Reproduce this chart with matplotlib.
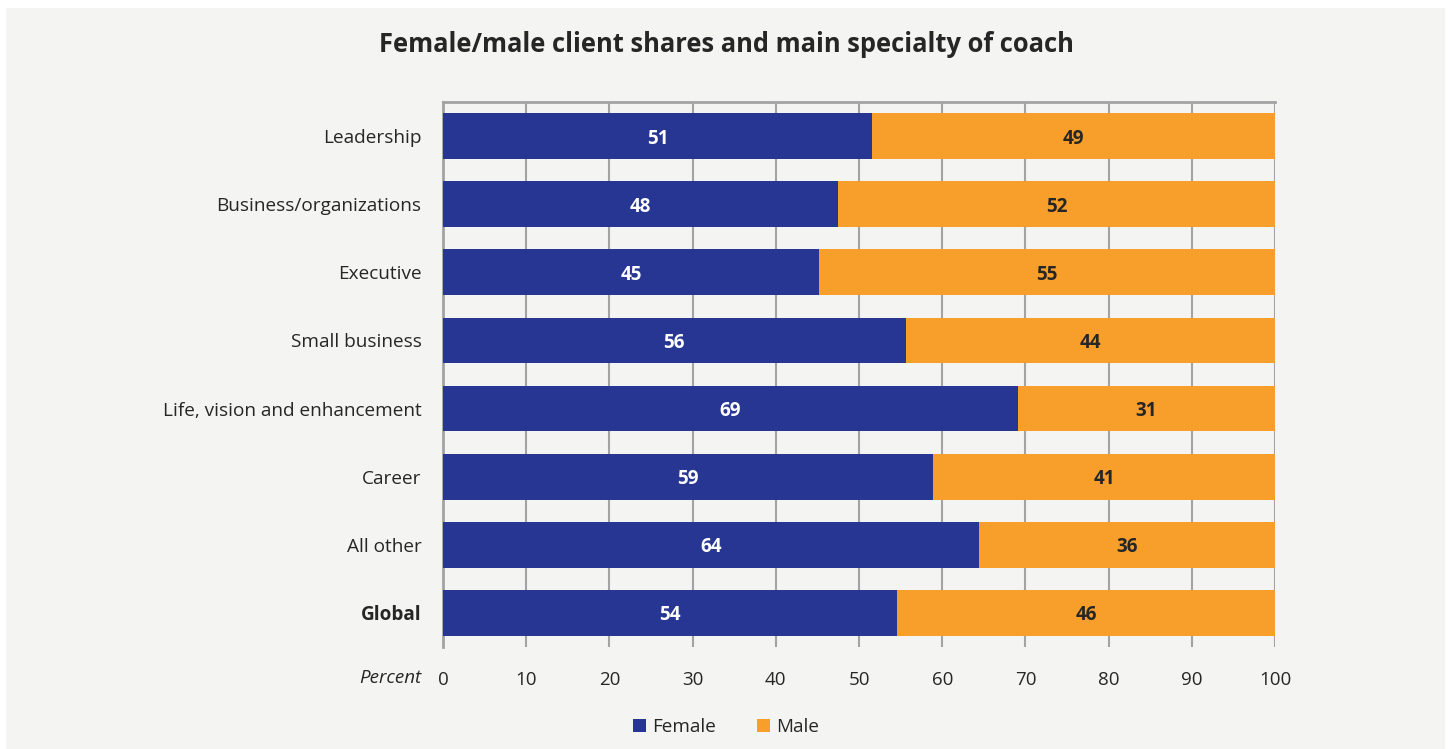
import matplotlib
matplotlib.use("Agg")
import matplotlib.pyplot as plt
from matplotlib.patches import Rectangle, Patch

categories = ["Leadership", "Business/organizations", "Executive", "Small business",
              "Life, vision and enhancement", "Career", "All other", "Global"]
female_share = [51.6, 47.5, 45.2, 55.6, 69.1, 58.9, 64.4, 54.6]
female_labels = ["51", "48", "45", "56", "69", "59", "64", "54"]
male_labels = ["49", "52", "55", "44", "31", "41", "36", "46"]
male_share = [100 - f for f in female_share]
xticks = [0, 10, 20, 30, 40, 50, 60, 70, 80, 90, 100]

BLUE = "#263692"
ORANGE = "#f79e2b"
GRID = "#a3a3a3"
TEXT = "#262626"
BG = "#f4f4f2"

plt.rcParams["font.family"] = ["Open Sans", "DejaVu Sans"]

W, H = 1449, 749
fig = plt.figure(figsize=(W / 100, H / 100), dpi=100, facecolor="white")
fig.patches.append(Rectangle((6 / W, 0), (1445 - 6) / W, (H - 8) / H,
                             transform=fig.transFigure, facecolor=BG,
                             edgecolor="none", zorder=-10))

ax = fig.add_axes([443 / W, 1 - 647 / H, (1275 - 443) / W, (647 - 102) / H])
ax.set_facecolor(BG)
ax.patch.set_alpha(0)

y = list(range(len(categories)))
ax.barh(y, female_share, height=0.67, color=BLUE, zorder=3)
ax.barh(y, male_share, left=female_share, height=0.67, color=ORANGE, zorder=3)

for i in y:
    ax.text(female_share[i] / 2, i, female_labels[i], ha="center", va="center_baseline",
            color="white", fontsize=13.5, fontweight="bold", zorder=4)
    ax.text(female_share[i] + male_share[i] / 2, i, male_labels[i], ha="center",
            va="center_baseline", color=TEXT, fontsize=13.5, fontweight="bold", zorder=4)

ax.set_xlim(0, 100)
ax.set_ylim(len(categories) - 0.5, -0.5)
ax.set_xticks(xticks)
ax.set_xticklabels([str(t) for t in xticks])
ax.set_yticks(y)
ax.set_yticklabels(categories)
for lbl in ax.get_yticklabels():
    lbl.set_verticalalignment("center_baseline")
    if lbl.get_text() == "Global":
        lbl.set_fontweight("bold")

ax.tick_params(axis="y", length=0, pad=15.5, labelsize=13.7, labelcolor=TEXT)
ax.tick_params(axis="x", length=0, pad=17.5, labelsize=13.5, labelcolor=TEXT)

ax.grid(axis="x", color=GRID, linewidth=1.5, zorder=1)
ax.set_axisbelow(True)
for s in ["bottom", "right"]:
    ax.spines[s].set_visible(False)
for s in ["top", "left"]:
    ax.spines[s].set_color(GRID)
    ax.spines[s].set_linewidth(2)

fig.text(390 / W, 1 - 678 / H, "Percent", ha="center", va="center",
         fontsize=13.5, style="italic", color=TEXT)

fig.text(726 / W, 1 - 44 / H, "Female/male client shares and main specialty of coach",
         ha="center", va="center", fontsize=18.4, fontweight="bold", color=TEXT)

handles = [Patch(facecolor=BLUE, label="Female"), Patch(facecolor=ORANGE, label="Male")]
fig.legend(handles=handles, loc="center", bbox_to_anchor=(726 / W, 1 - 727 / H),
           ncol=2, frameon=False, fontsize=13.6, handlelength=0.7, handleheight=0.7,
           handletextpad=0.3, columnspacing=2.2, labelcolor=TEXT)

fig.savefig("out.png", dpi=100, facecolor="white")
